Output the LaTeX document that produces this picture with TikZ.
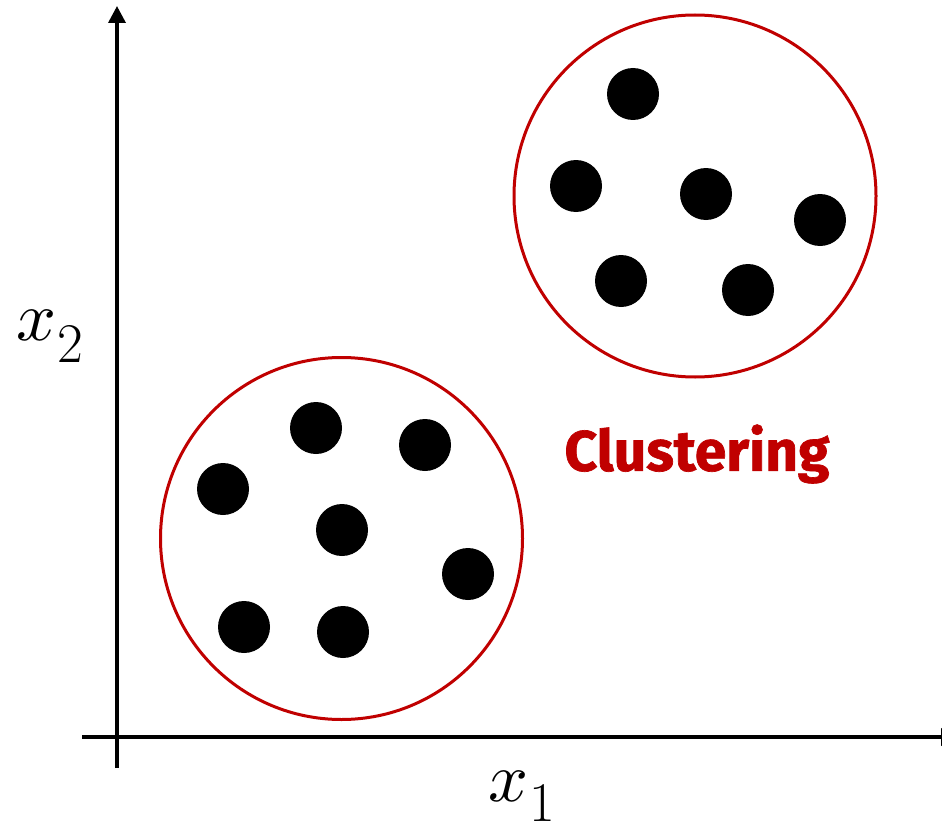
\documentclass[tikz,border=0pt]{standalone}
\usepackage{fontspec}
\newfontfamily\clfont{Fira Sans}[BoldFeatures={FakeBold=1.2}]
\usetikzlibrary{arrows.meta}
\definecolor{clred}{HTML}{C00000}
\begin{document}
\begin{tikzpicture}[x=1pt,y=-1pt,
  axis/.style={line width=3.5pt,-{Triangle[length=17pt,width=17pt]}},
  clcircle/.style={draw=clred,line width=3pt},
  pt/.style={fill=black,circle,minimum size=52pt,inner sep=0pt}]
\useasboundingbox (0,0) rectangle (942,824);
% axes
\coordinate (yb) at (117,768);
\coordinate (yt) at (117,6);
\coordinate (xl) at (82,737);
\coordinate (xr) at (958,737);
\draw[axis] (yb) -- (yt);
\draw[axis] (xl) -- (xr);
% clusters
\node[clcircle,circle,minimum size=362pt,inner sep=0pt] (c1) at (341.5,538.5) {};
\node[clcircle,circle,minimum size=362pt,inner sep=0pt] (c2) at (695,196) {};
% right cluster points
\node[pt] (r1) at (633,94) {};
\node[pt] (r2) at (576,186) {};
\node[pt] (r3) at (706,194) {};
\node[pt] (r4) at (820,220) {};
\node[pt] (r5) at (621,281) {};
\node[pt] (r6) at (748,290) {};
% left cluster points
\node[pt] (l1) at (316,428) {};
\node[pt] (l2) at (425,445) {};
\node[pt] (l3) at (223,489) {};
\node[pt] (l4) at (342,530) {};
\node[pt] (l5) at (468,574) {};
\node[pt] (l6) at (244,627) {};
\node[pt] (l7) at (343,632) {};
% labels
\node[text=clred,inner sep=0pt] (cl) at (697,454) {\clfont\bfseries\fontsize{57}{60}\selectfont Clustering};
\node[inner sep=0pt,anchor=base west] (lx2) at (16,340) {\scalebox{7}{$x$}\hspace{1pt}\raisebox{-22pt}{\fontsize{56}{56}\selectfont 2}};
\node[inner sep=0pt,anchor=base west] (lx1) at (488,801) {\scalebox{7}{$x$}\hspace{1pt}\smash{\raisebox{-20pt}{\fontsize{56}{56}\selectfont 1}}};
\end{tikzpicture}
\end{document}
